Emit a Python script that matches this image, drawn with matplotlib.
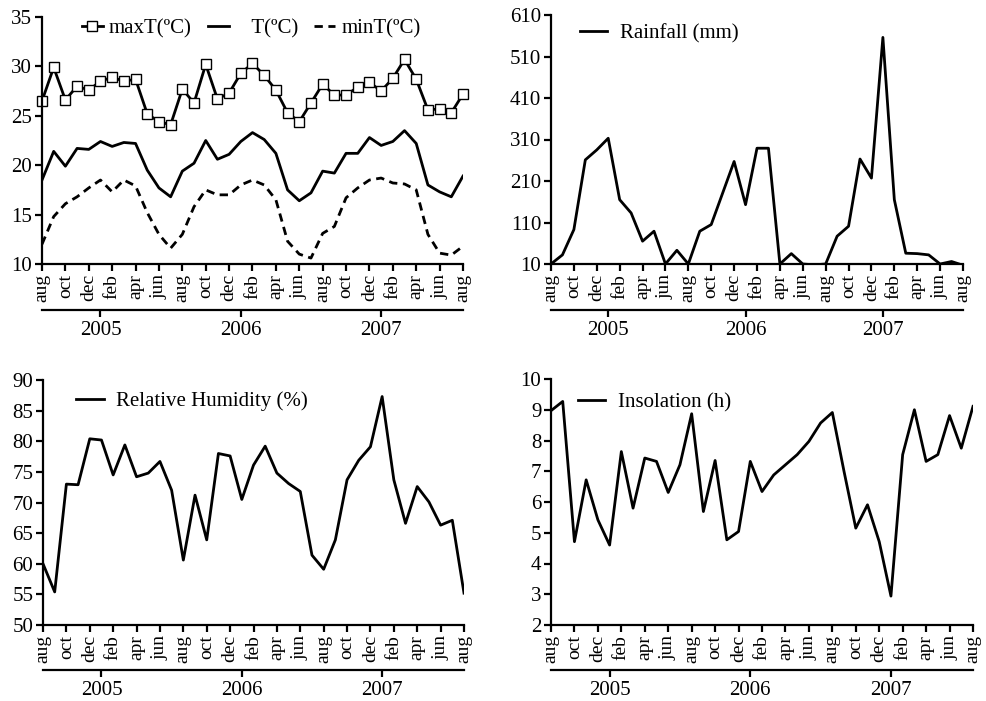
import numpy as np
import matplotlib.pyplot as plt

plt.rcParams['font.family'] = ['Liberation Serif', 'DejaVu Serif']

# monthly values, aug 2004 .. aug 2007
months = ['aug', 'sep', 'oct', 'nov', 'dec', 'jan', 'feb', 'mar', 'apr', 'may', 'jun', 'jul'] * 3 + ['aug']
years = ['2005', '2006', '2007']

max_t = [26.5, 29.9, 26.6, 28.0, 27.6, 28.5, 28.9, 28.5, 28.7, 25.2, 24.4, 24.1,
         27.7, 26.3, 30.2, 26.7, 27.3, 29.3, 30.3, 29.1, 27.6, 25.3, 24.4, 26.3,
         28.2, 27.1, 27.1, 27.9, 28.4, 27.5, 28.8, 30.7, 28.7, 25.6, 25.7, 25.3, 27.2]
mean_t = [18.5, 21.4, 19.9, 21.7, 21.6, 22.4, 21.9, 22.3, 22.2, 19.5, 17.7, 16.8,
          19.4, 20.2, 22.5, 20.6, 21.1, 22.4, 23.3, 22.6, 21.2, 17.5, 16.4, 17.2,
          19.4, 19.2, 21.2, 21.2, 22.8, 22.0, 22.4, 23.5, 22.2, 18.0, 17.3, 16.8, 18.9]
min_t = [12.0, 14.8, 16.1, 16.8, 17.7, 18.5, 17.3, 18.5, 17.9, 15.2, 13.0, 11.6,
         13.0, 15.8, 17.5, 17.0, 17.0, 18.0, 18.5, 18.0, 16.5, 12.3, 11.0, 10.6,
         13.1, 13.8, 16.7, 17.7, 18.5, 18.7, 18.2, 18.1, 17.5, 13.0, 11.1, 10.9, 11.8]
rainfall = [10, 32, 93, 261, 285, 313, 165, 133, 65, 89, 10, 43,
            10, 89, 105, 181, 257, 153, 289, 289, 10, 35, 10, 8,
            10, 77, 101, 263, 217, 556, 165, 36, 35, 32, 10, 16, 7]
humidity = [60.0, 55.4, 73.0, 72.9, 80.4, 80.2, 74.5, 79.4, 74.2, 74.8, 76.7, 72.0,
            60.6, 71.2, 63.9, 78.0, 77.6, 70.5, 76.1, 79.2, 74.8, 73.1, 71.8, 61.4,
            59.1, 63.9, 73.7, 76.9, 79.1, 87.3, 73.7, 66.6, 72.6, 70.1, 66.3, 67.1, 55.2]
insolation = [8.97, 9.27, 4.71, 6.72, 5.42, 4.60, 7.64, 5.80, 7.43, 7.32, 6.31, 7.21,
              8.87, 5.69, 7.35, 4.77, 5.04, 7.32, 6.34, 6.88, 7.21, 7.54, 7.97, 8.57,
              8.91, 6.99, 5.15, 5.91, 4.71, 2.94, 7.54, 9.00, 7.32, 7.54, 8.81, 7.75, 9.11]

x = np.arange(len(months))
W, H = 987, 701
fig = plt.figure(figsize=(W / 100, H / 100), dpi=100)


def make_axes(l, t, r, b, yticks, sec_loc):
    ax = fig.add_axes([l / W, 1 - b / H, (r - l) / W, (b - t) / H])
    ax.set_xlim(0, 36)
    ax.set_ylim(yticks[0], yticks[-1])
    ax.set_yticks(yticks)
    ax.set_xticks(x[::2])
    ax.set_xticklabels(months[::2], rotation=90)
    for s in ['top', 'right']:
        ax.spines[s].set_visible(False)
    for s in ['left', 'bottom']:
        ax.spines[s].set_linewidth(1.6)
    ax.tick_params(width=1.6, length=5, labelsize=15, pad=2)
    ax.tick_params(axis='x', labelsize=14)
    sec = ax.secondary_xaxis(sec_loc)
    sec.set_xticks([5, 17, 29])
    sec.set_xticklabels(years)
    sec.spines['bottom'].set_linewidth(1.6)
    sec.tick_params(width=1.6, length=5, labelsize=15, pad=3)
    return ax


lw = 2.0
leg = dict(frameon=False, fontsize=15, handlelength=1.3, handletextpad=0.6)

# temperature
ax1 = make_axes(42, 17, 463, 264, np.arange(10, 36, 5), -0.186)
ax1.plot(x, max_t, color='black', lw=lw, marker='s', ms=7.5, mfc='white', mec='black', mew=1.0,
         label='maxT(ºC)', clip_on=False)
ax1.plot(x, mean_t, color='black', lw=lw, label='   T(ºC)')
ax1.plot(x, min_t, color='black', lw=lw, ls=(0, (3, 2)), label='minT(ºC)')
ax1.legend(loc='upper left', bbox_to_anchor=(0.05, 1.07), ncol=3, frameon=False, fontsize=15,
           handlelength=1.0, handletextpad=0.3, columnspacing=0.8)

# rainfall
ax2 = make_axes(551, 15, 963, 264, np.arange(10, 611, 100), -0.186)
ax2.plot(x, rainfall, color='black', lw=lw, label='Rainfall (mm)')
ax2.legend(loc='upper left', bbox_to_anchor=(0.025, 1.04), **leg)

# humidity
ax3 = make_axes(43, 380, 464, 625, np.arange(50, 91, 5), -0.184)
ax3.plot(x, humidity, color='black', lw=lw, label='Relative Humidity (%)')
ax3.legend(loc='upper left', bbox_to_anchor=(0.035, 1.03), **leg)

# insolation
ax4 = make_axes(551, 379, 973, 625, np.arange(2, 11, 1), -0.184)
ax4.plot(x, insolation, color='black', lw=lw, label='Insolation (h)')
ax4.legend(loc='upper left', bbox_to_anchor=(0.02, 1.02), **leg)

fig.savefig('out.png', dpi=100)
